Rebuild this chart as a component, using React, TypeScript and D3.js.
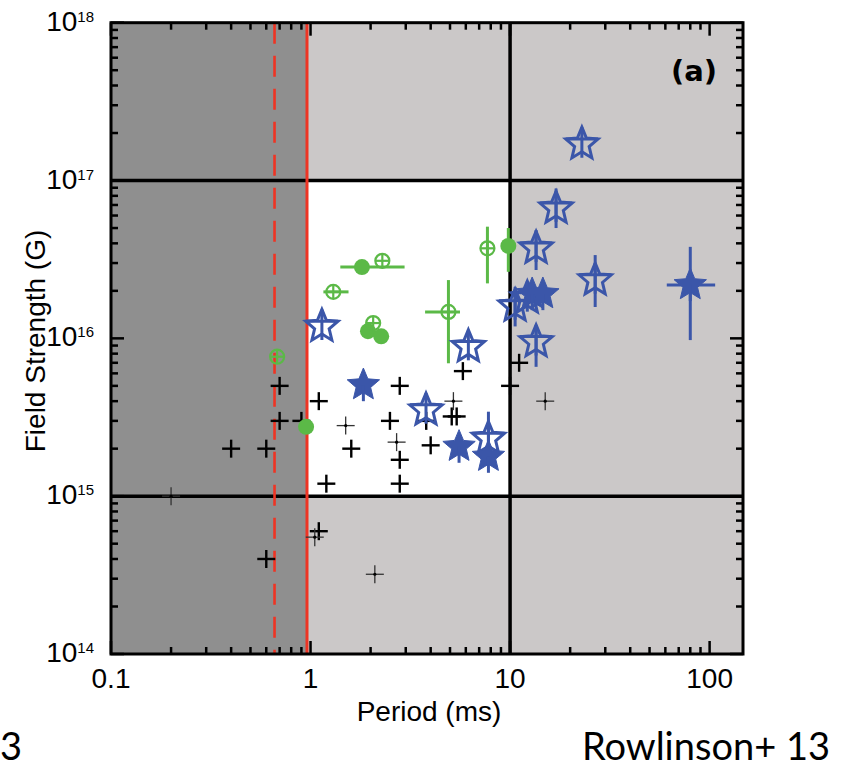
import React from "react";
import * as d3 from "d3";

// period (ms) / field strength (G)
const crossBold = [
  [0.4, 2e15], [0.6, 2e15], [0.7, 5e15], [0.7, 3e15], [0.9, 3e15], [1.1, 4e15],
  [1.2, 1.2e15], [1.6, 2e15], [2.5, 3e15], [2.8, 5e15], [2.8, 1.7e15], [2.8, 1.2e15],
  [3.8, 3e15], [4.0, 2.1e15], [5.1, 3.2e15], [5.4, 3.2e15], [5.8, 6.2e15], [10, 5e15],
  [11.1, 7e15], [1.1, 6e14], [0.6, 4e14],
];
const crossLight = [
  [1.5, 2.8e15], [2.7, 2.2e15], [5.2, 4e15], [15, 4e15], [0.2, 1e15], [1.05, 5.5e14], [2.1, 3.2e14],
];

type Pt = { p: number; b: number; pLo?: number; pHi?: number; bLo?: number; bHi?: number };

const greenFilled: Pt[] = [
  { p: 1.81, b: 2.83e16, pLo: 1.41, pHi: 2.96 },
  { p: 1.94, b: 1.11e16 },
  { p: 2.26, b: 1.03e16 },
  { p: 0.95, b: 2.75e15 },
  { p: 9.8, b: 3.85e16, bLo: 2.64e16, bHi: 5e16 },
];
const greenOpen: Pt[] = [
  { p: 2.29, b: 3.1e16 },
  { p: 1.3, b: 1.97e16, pLo: 1.16, pHi: 1.55 },
  { p: 2.06, b: 1.25e16 },
  { p: 0.68, b: 7.65e15 },
  { p: 7.7, b: 3.72e16, bLo: 2.23e16, bHi: 5.1e16 },
  { p: 4.91, b: 1.47e16, pLo: 3.75, pHi: 5.61, bLo: 6.95e15, bHi: 2.34e16 },
];
const blueOpen: Pt[] = [
  { p: 22.9, b: 1.7e17 },
  { p: 17.0, b: 6.67e16, bLo: 5e16, bHi: 8.9e16 },
  { p: 13.5, b: 3.72e16, bLo: 2.71e16, bHi: 4.86e16 },
  { p: 26.7, b: 2.34e16, bLo: 1.58e16, bHi: 3.37e16 },
  { p: 12.2, b: 1.8e16 },
  { p: 10.6, b: 1.6e16, bLo: 1.19e16, bHi: 2.12e16 },
  { p: 13.5, b: 9.5e15, bLo: 6.6e15, bHi: 1.19e16 },
  { p: 1.14, b: 1.19e16 },
  { p: 6.18, b: 8.85e15 },
  { p: 3.79, b: 3.51e15 },
  { p: 7.79, b: 2.32e15, bLo: 1.7e15, bHi: 3.43e15 },
];
const blueFilled: Pt[] = [
  { p: 80, b: 2.18e16, pLo: 61, pHi: 106.6, bLo: 9.75e15, bHi: 3.8e16 },
  { p: 12.9, b: 1.91e16 },
  { p: 14.6, b: 1.91e16 },
  { p: 1.84, b: 5.06e15 },
  { p: 5.55, b: 2.06e15 },
  { p: 7.79, b: 1.78e15 },
];

const xDecades = [0.1, 1, 10, 100];
const yExponents = [14, 15, 16, 17, 18];
const breakupPeriod = 0.66;
const minPeriod = 0.96;
const boxP = [minPeriod, 10];
const boxB = [1e15, 1e17];

const BLUE = "#3b56a9";
const GREEN = "#5bb947";
const RED = "#ee3424";
const DARK = "#8f8f8f";
const LIGHT = "#cbc8c8";

const x = d3.scaleLog().domain([0.1, 147]).range([111, 743]);
const y = d3.scaleLog().domain([1e14, 1e18]).range([654, 22.7]);

function starPath(r: number, ratio: number) {
  const pts: [number, number][] = [];
  for (let i = 0; i < 10; i++) {
    const a = -Math.PI / 2 + (i * Math.PI) / 5;
    const rr = i % 2 === 0 ? r : r * ratio;
    pts.push([rr * Math.cos(a), rr * Math.sin(a)]);
  }
  return d3.line()(pts) + "Z";
}

function ErrBars({ d, color, w }: { d: Pt; color: string; w: number }) {
  return (
    <g stroke={color} strokeWidth={w}>
      {d.pLo != null && <line x1={x(d.pLo)} x2={x(d.pHi!)} y1={y(d.b)} y2={y(d.b)} />}
      {d.bLo != null && <line x1={x(d.p)} x2={x(d.p)} y1={y(d.bLo)} y2={y(d.bHi!)} />}
    </g>
  );
}

export default function App() {
  const xMin = x.domain()[0], xMax = x.domain()[1];
  const xTicks: { v: number; major: boolean }[] = [];
  xDecades.forEach((d) => {
    for (let m = 1; m < 10; m++) {
      const v = d * m;
      if (v >= xMin && v <= xMax) xTicks.push({ v, major: m === 1 });
    }
  });
  const yTicks: { v: number; major: boolean }[] = [];
  yExponents.forEach((e) => {
    for (let m = 1; m < 10; m++) {
      const v = m * Math.pow(10, e);
      if (v <= 1e18) yTicks.push({ v, major: m === 1 });
    }
  });
  const [x0, x1] = x.range();
  const [y0, y1] = y.range();
  const r = 17;
  const star = starPath(r, 0.45);

  return (
    <svg width={842} height={773} style={{ position: "absolute", left: 0, top: 0, background: "#fff" }}
      fontFamily="'Liberation Sans', Arial, sans-serif">
      {/* regions */}
      <rect x={x0} y={y1} width={x1 - x0} height={y0 - y1} fill={LIGHT} />
      <rect x={x0} y={y1} width={x(minPeriod) - x0} height={y0 - y1} fill={DARK} />
      <rect x={x(boxP[0])} y={y(boxB[1])} width={x(boxP[1]) - x(boxP[0])} height={y(boxB[0]) - y(boxB[1])} fill="#fff" />
      <g stroke="#000" strokeWidth={3.5}>
        <line x1={x0} x2={x1} y1={y(boxB[0])} y2={y(boxB[0])} />
        <line x1={x0} x2={x1} y1={y(boxB[1])} y2={y(boxB[1])} />
        <line x1={x(boxP[1])} x2={x(boxP[1])} y1={y1} y2={y0} />
      </g>
      <line x1={x(breakupPeriod)} x2={x(breakupPeriod)} y1={y1} y2={y0} stroke={RED} strokeWidth={2.6} strokeDasharray="21,12" />
      <line x1={x(minPeriod)} x2={x(minPeriod)} y1={y1} y2={y0} stroke={RED} strokeWidth={3} />

      {/* black crosses */}
      <g stroke="#000" strokeWidth={2.4}>
        {crossBold.map(([p, b], i) => (
          <g key={i} transform={`translate(${x(p)},${y(b)})`}>
            <line x1={-9} x2={9} />
            <line y1={-9} y2={9} />
          </g>
        ))}
      </g>
      <g stroke="#333" strokeWidth={1.3}>
        {crossLight.map(([p, b], i) => (
          <g key={i} transform={`translate(${x(p)},${y(b)})`}>
            <line x1={-9} x2={9} />
            <line y1={-9} y2={9} />
            <circle r={1.6} fill="#000" stroke="none" />
          </g>
        ))}
      </g>

      {/* green */}
      {greenFilled.map((d, i) => (
        <g key={i}>
          <ErrBars d={d} color={GREEN} w={3} />
          <circle cx={x(d.p)} cy={y(d.b)} r={8} fill={GREEN} />
        </g>
      ))}
      {greenOpen.map((d, i) => (
        <g key={i}>
          <ErrBars d={d} color={GREEN} w={3} />
          <g transform={`translate(${x(d.p)},${y(d.b)})`} stroke={GREEN} strokeWidth={2.2}>
            <circle r={7} fill="none" />
            <line x1={-7} x2={7} />
            <line y1={-7} y2={7} />
          </g>
        </g>
      ))}

      {/* blue stars */}
      {blueOpen.map((d, i) => (
        <g key={i}>
          <ErrBars d={d} color={BLUE} w={3} />
          <g transform={`translate(${x(d.p)},${y(d.b)})`} stroke={BLUE} strokeWidth={3} fill="none">
            <path d={star} strokeLinejoin="miter" />
            <line x1={-r * 0.95} x2={r * 0.95} y1={-r * 0.31} y2={-r * 0.31} />
            <line y1={-r} y2={r * 0.8} />
          </g>
        </g>
      ))}
      {blueFilled.map((d, i) => (
        <g key={i}>
          <ErrBars d={d} color={BLUE} w={3} />
          <g transform={`translate(${x(d.p)},${y(d.b)})`}>
            <path d={star} fill={BLUE} stroke={BLUE} strokeWidth={1} />
            <line y1={0} y2={r * 0.95} stroke={BLUE} strokeWidth={3} />
          </g>
        </g>
      ))}

      {/* frame and ticks */}
      <rect x={x0} y={y1} width={x1 - x0} height={y0 - y1} fill="none" stroke="#000" strokeWidth={3} />
      <g stroke="#000" strokeWidth={2.5}>
        {xTicks.map((t, i) => {
          const L = t.major ? 13 : 7;
          return (
            <g key={i}>
              <line x1={x(t.v)} x2={x(t.v)} y1={y0} y2={y0 - L} />
              <line x1={x(t.v)} x2={x(t.v)} y1={y1} y2={y1 + L} />
            </g>
          );
        })}
        {yTicks.map((t, i) => {
          const L = t.major ? 13 : 7;
          return (
            <g key={i}>
              <line x1={x0} x2={x0 + L} y1={y(t.v)} y2={y(t.v)} />
              <line x1={x1} x2={x1 - L} y1={y(t.v)} y2={y(t.v)} />
            </g>
          );
        })}
      </g>

      {/* labels */}
      <g fontSize={28} fill="#000">
        {yExponents.map((e) => (
          <text key={e} x={94} y={y(Math.pow(10, e)) + 8} textAnchor="end">
            10<tspan fontSize={15} dy={-9}>{e}</tspan>
          </text>
        ))}
        {xDecades.map((d) => (
          <text key={d} x={x(d)} y={688} textAnchor="middle">{d}</text>
        ))}
        <text x={429} y={721} textAnchor="middle">Period (ms)</text>
        <text transform="translate(45,341) rotate(-90)" textAnchor="middle">Field Strength (G)</text>
      </g>
      <text x={717} y={81} textAnchor="end" fontFamily="'DejaVu Sans', sans-serif" fontWeight="bold" fontSize={29}>(a)</text>

      <g fontFamily="Lato, 'Open Sans', sans-serif" fontSize={38} fill="#000">
        <text x={0} y={760}>3</text>
        <text x={830} y={760} textAnchor="end">Rowlinson+ 13</text>
      </g>
    </svg>
  );
}
